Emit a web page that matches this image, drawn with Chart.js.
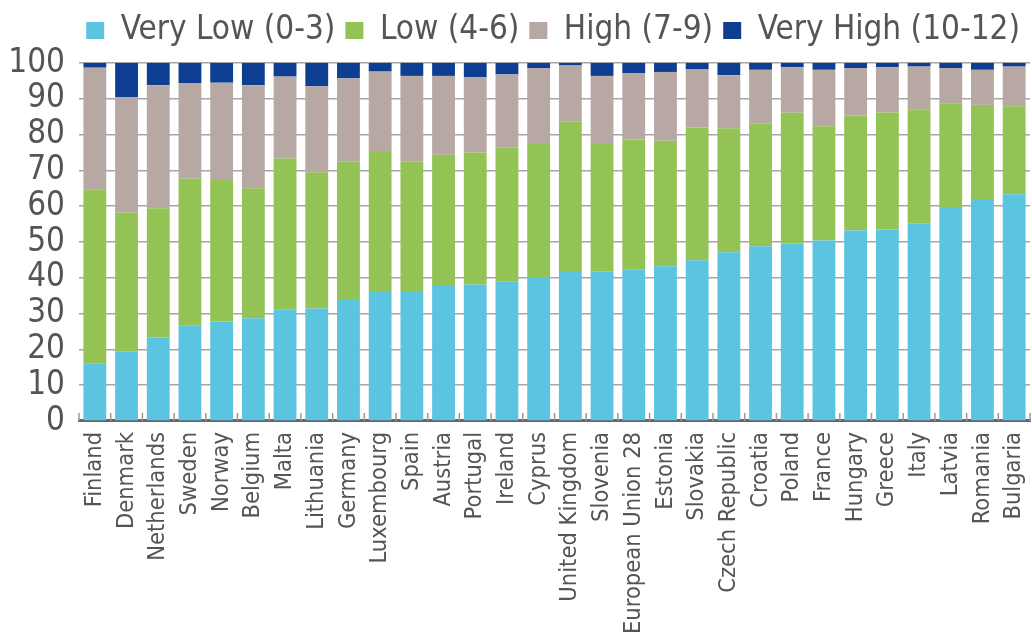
<!DOCTYPE html>
<html>
<head>
<meta charset="utf-8">
<script src="https://cdn.jsdelivr.net/npm/chart.js@4.4.0/dist/chart.umd.min.js"></script>
<style>
  html, body { margin: 0; padding: 0; background: #fff; }
  #wrap { width: 1032px; height: 637px; }
</style>
</head>
<body>
<div id="wrap"><canvas id="skillsChart"></canvas></div>
<script>
const ctx = document.getElementById('skillsChart');

//Prepare data
var countries = ['Finland', 'Denmark', 'Netherlands', 'Sweden', 'Norway', 'Belgium', 'Malta', 'Lithuania',
    'Germany', 'Luxembourg', 'Spain', 'Austria', 'Portugal', 'Ireland', 'Cyprus', 'United Kingdom', 'Slovenia',
    'European Union 28', 'Estonia', 'Slovakia', 'Czech Republic', 'Croatia', 'Poland', 'France', 'Hungary',
    'Greece', 'Italy', 'Latvia', 'Romania', 'Bulgaria'];
var veryLow = [16.1, 19.5, 23.3, 26.7, 27.8, 28.7, 31.2, 31.4, 33.8, 36.0, 36.0, 37.7, 38.1, 39.0, 40.1, 41.6, 41.8,
    42.4, 43.2, 44.9, 47.1, 48.8, 49.6, 50.4, 53.2, 53.5, 55.2, 59.5, 61.7, 63.3];
var low = [48.6, 38.7, 36.1, 41.0, 39.8, 36.3, 42.1, 38.1, 38.6, 39.4, 36.4, 36.7, 36.9, 37.3, 37.3, 42.0, 35.6,
    36.2, 35.1, 37.1, 34.7, 34.2, 36.5, 31.9, 32.1, 32.7, 31.9, 29.1, 26.6, 24.6];
var high = [34.0, 32.2, 34.4, 26.7, 26.9, 28.8, 22.9, 24.0, 23.3, 22.2, 24.0, 22.0, 21.0, 20.5, 21.1, 15.7, 19.0,
    18.6, 19.2, 16.2, 14.8, 15.1, 12.7, 15.8, 13.2, 12.6, 11.9, 10.0, 9.8, 11.1];
var veryHigh = [1.3, 9.6, 6.2, 5.6, 5.5, 6.2, 3.8, 6.5, 4.3, 2.4, 3.6, 3.6, 4.0, 3.2, 1.5, 0.7, 3.6,
    2.8, 2.5, 1.8, 3.4, 1.9, 1.2, 1.9, 1.5, 1.2, 1.0, 1.4, 1.9, 1.0];
var yTicks = [0, 10, 20, 30, 40, 50, 60, 70, 80, 90, 100];

var fontFamily = "'DejaVu Sans Condensed', 'Liberation Sans Narrow', sans-serif";
var textColor = '#555555';

// small upward tick marks between categories, on the x axis line
const upTicks = {
    id: 'upTicks',
    afterDatasetsDraw(chart) {
        var x = chart.scales.x, y = chart.scales.y, c = chart.ctx;
        var bottom = y.getPixelForValue(0);
        var step = x.getPixelForValue(1) - x.getPixelForValue(0);
        c.save();
        c.strokeStyle = '#999999';
        c.lineWidth = 1.5;
        for (var i = 0; i <= countries.length; i++) {
            var px = x.getPixelForValue(i) - step / 2;
            c.beginPath();
            c.moveTo(px, bottom);
            c.lineTo(px, bottom - 8);
            c.stroke();
        }
        c.restore();
    }
};

// a little more room between legend and plot
const legendGap = {
    id: 'legendGap',
    beforeInit(chart) {
        var fit = chart.legend.fit;
        chart.legend.fit = function () {
            fit.bind(chart.legend)();
            this.height += 6;
        };
    }
};

function makeSet(label, data, color) {
    return {
        label: label,
        data: data,
        backgroundColor: color,
        borderWidth: 0,
        barPercentage: 0.72,
        categoryPercentage: 1
    };
}

//Create chart
new Chart(ctx, {
    type: 'bar',
    data: {
        labels: countries,
        datasets: [
            makeSet('Very Low (0-3)', veryLow, '#5BC4E1'),
            makeSet('Low (4-6)', low, '#93C255'),
            makeSet('High (7-9)', high, '#B7A8A4'),
            makeSet('Very High (10-12)', veryHigh, '#0E3E91')
        ]
    },
    plugins: [upTicks, legendGap],
    options: {
        responsive: true,
        maintainAspectRatio: false,
        animation: false,
        layout: { padding: { left: 0, right: 2, top: 4, bottom: 0 } },
        plugins: {
            legend: {
                position: 'top',
                align: 'end',
                labels: {
                    boxWidth: 18,
                    boxHeight: 17,
                    padding: 10,
                    color: textColor,
                    font: { family: fontFamily, size: 33 }
                }
            },
            tooltip: { enabled: false }
        },
        scales: {
            x: {
                stacked: true,
                grid: { display: false },
                border: { display: true, color: '#666666', width: 3 },
                afterFit: function (axis) {
                    axis.paddingRight = 0;
                    axis.paddingLeft = 0;
                },
                ticks: {
                    color: textColor,
                    font: { family: fontFamily, size: 23.5 },
                    maxRotation: 90,
                    minRotation: 90,
                    autoSkip: false,
                    padding: 3
                }
            },
            y: {
                stacked: true,
                min: 0,
                max: 100,
                afterBuildTicks: function (axis) {
                    axis.ticks = yTicks.map(function (v) { return { value: v }; });
                },
                afterFit: function (axis) {
                    axis.width = 79;
                },
                grid: { color: '#A6A6A6', lineWidth: 1.5, drawTicks: false },
                border: { display: false },
                ticks: {
                    color: textColor,
                    font: { family: fontFamily, size: 33 },
                    autoSkip: false,
                    padding: 14
                }
            }
        }
    }
});
</script>
</body>
</html>
